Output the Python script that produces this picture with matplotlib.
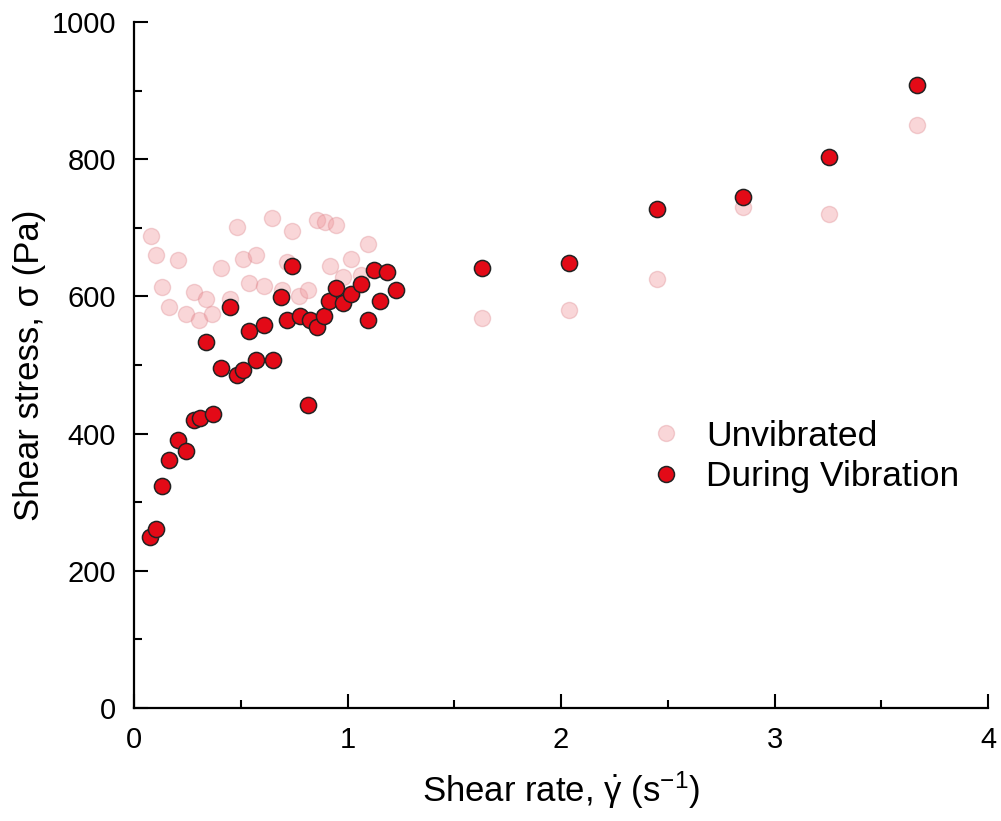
import matplotlib
matplotlib.use("Agg")
import matplotlib.pyplot as plt
from matplotlib.lines import Line2D
from matplotlib.ticker import MultipleLocator

plt.rcParams['font.family'] = ['Liberation Sans', 'DejaVu Sans']
plt.rcParams['mathtext.fontset'] = 'custom'
plt.rcParams['mathtext.rm'] = 'Liberation Sans'
plt.rcParams['mathtext.it'] = 'Liberation Sans'

# Unvibrated
unvib_x = [0.080, 0.103, 0.131, 0.164, 0.206, 0.244, 0.281, 0.304, 0.337, 0.365,
           0.407, 0.450, 0.482, 0.511, 0.539, 0.571, 0.609, 0.646, 0.693, 0.717,
           0.740, 0.773, 0.815, 0.857, 0.895, 0.946, 0.918, 0.979, 1.016, 1.063,
           1.096, 1.630, 2.037, 2.450, 2.852, 3.255, 3.667]
unvib_y = [688, 661, 613, 585, 653, 574, 606, 565, 596, 575,
           642, 596, 701, 654, 619, 660, 615, 715, 610, 650,
           695, 600, 610, 712, 709, 704, 645, 628, 654, 631,
           677, 569, 580, 625, 730, 720, 850]

# During vibration
vib_x = [0.075, 0.103, 0.131, 0.164, 0.206, 0.244, 0.281, 0.309, 0.337, 0.370,
         0.407, 0.450, 0.482, 0.511, 0.539, 0.571, 0.609, 0.651, 0.689, 0.717,
         0.740, 0.778, 0.815, 0.824, 0.857, 0.890, 0.913, 0.946, 0.979, 1.016,
         1.063, 1.096, 1.124, 1.152, 1.185, 1.227, 1.630, 2.037, 2.450, 2.852,
         3.255, 3.667]
vib_y = [250, 261, 324, 362, 391, 375, 420, 423, 534, 429,
         496, 584, 485, 493, 550, 508, 559, 507, 599, 565,
         645, 572, 441, 566, 555, 571, 594, 612, 591, 603,
         618, 566, 638, 594, 635, 610, 642, 648, 728, 745,
         803, 908]

fig = plt.figure(figsize=(10.01, 8.21), dpi=100)
ax = fig.add_axes([134/1001, 1-708/821, (988-134)/1001, (708-22)/821])

pink_face = (0.94, 0.60, 0.62, 0.40)
pink_edge = (0.86, 0.50, 0.53, 0.32)
red_face = '#e30a17'
ax.scatter(unvib_x, unvib_y, s=135, facecolor=pink_face, edgecolor=pink_edge,
           linewidth=1.0, zorder=2)
ax.scatter(vib_x, vib_y, s=135, facecolor=red_face, edgecolor='#222222',
           linewidth=1.1, zorder=3)

ax.set_xlim(0, 4)
ax.set_ylim(0, 1000)
ax.xaxis.set_major_locator(MultipleLocator(1))
ax.xaxis.set_minor_locator(MultipleLocator(0.5))
ax.yaxis.set_major_locator(MultipleLocator(200))
ax.yaxis.set_minor_locator(MultipleLocator(100))
for s in ['top', 'right']:
    ax.spines[s].set_visible(False)
for s in ['left', 'bottom']:
    ax.spines[s].set_linewidth(1.6)
ax.tick_params(which='major', direction='in', length=10, width=1.5,
               labelsize=21, pad=13)
ax.tick_params(which='minor', direction='in', length=6, width=1.5)

ax.set_xlabel(r'Shear rate, $\dot{\gamma}$ (s$^{\mathregular{-1}}$)', fontsize=25, labelpad=11)
ax.set_ylabel('Shear stress, σ (Pa)', fontsize=25, labelpad=4)

handles = [
    Line2D([], [], linestyle='none', marker='o', markersize=11.5,
           markerfacecolor=pink_face, markeredgecolor=pink_edge, markeredgewidth=1.0),
    Line2D([], [], linestyle='none', marker='o', markersize=11.5,
           markerfacecolor=red_face, markeredgecolor='#222222', markeredgewidth=1.1),
]
ax.legend(handles, ['Unvibrated', 'During Vibration'], loc='center left',
          bbox_to_anchor=(648/1001, 1-456.5/821), bbox_transform=fig.transFigure,
          frameon=False, fontsize=25.5, handlelength=1.0, handletextpad=0.64,
          borderpad=0, borderaxespad=0, labelspacing=0.22)

fig.savefig('out.png', dpi=100)
